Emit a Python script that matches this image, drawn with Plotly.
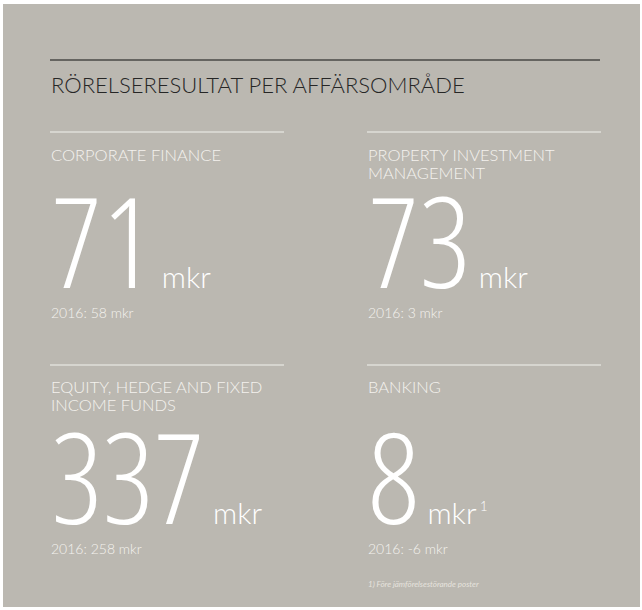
import plotly.graph_objects as go

# ---- data ----
title = "RÖRELSERESULTAT PER AFFÄRSOMRÅDE"
segments = ["CORPORATE FINANCE", "PROPERTY INVESTMENT<br>MANAGEMENT",
            "EQUITY, HEDGE AND FIXED<br>INCOME FUNDS", "BANKING"]
result_2017 = [71, 73, 337, 8]
result_2016 = [58, 3, 258, -6]
footnote_marks = ["", "", "", "1"]
prev_year = "2016"
unit = "mkr"
footnote = "1) Före jämförelsestörande poster"

# ---- layout / style ----
W, H = 642, 610
BG = "#bbb8b1"
WHITE = "#ffffff"
LABEL_C = "#f4f2ee"
FONT = "Lato"
NUM_FONT = "Open Sans"
ASC = 0.987      # Lato ascent ratio
ASC_NUM = 1.069  # Open Sans ascent ratio

col_x = [50, 367, 50, 367]
col_w = 234
rule_y = [132, 132, 365, 365]
label_base = [160, 160, 392, 392]
label_lead = 18
num_base = [287, 287, 523, 523]
prev_base = [317, 317, 553, 553]

FS_TITLE, FS_LABEL, FS_NUM, FS_UNIT, FS_PREV = 22, 16.5, 126, 30, 14


def top_from_base(base, fs, asc=ASC):
    return base - asc * fs


fig = go.Figure()

shapes = [
    dict(type="rect", xref="x", yref="y", x0=3, x1=640, y0=4, y1=607,
         fillcolor=BG, line=dict(width=0), layer="below"),
    dict(type="line", xref="x", yref="y", x0=50, x1=600, y0=60, y1=60,
         line=dict(color="#111111", width=1.2)),
]
annotations = [
    dict(text=title, x=50, y=top_from_base(92, FS_TITLE), xref="x", yref="y",
         xanchor="left", yanchor="top", showarrow=False, borderpad=0,
         font=dict(family=FONT, size=FS_TITLE, color="#262626", weight=300)),
]

for i, seg in enumerate(segments):
    x0 = col_x[i]
    shapes.append(dict(type="line", xref="x", yref="y", x0=x0, x1=x0 + col_w,
                       y0=rule_y[i], y1=rule_y[i],
                       line=dict(color="#f2f1ee", width=1.2)))
    for k, line in enumerate(seg.split("<br>")):
        annotations.append(dict(
            text=line, x=x0,
            y=top_from_base(label_base[i] + k * label_lead, FS_LABEL),
            xref="x", yref="y", xanchor="left", yanchor="top", align="left",
            showarrow=False, borderpad=0,
            font=dict(family=FONT, size=FS_LABEL, color=LABEL_C, weight=300)))
    sup = (f"<sup><span style='font-size:13px'>&nbsp;{footnote_marks[i]}"
           f"</span></sup>" if footnote_marks[i] else "")
    big = (f"<span style='font-stretch:87.5%'>{result_2017[i]}</span>"
           f"<span style='font-size:{FS_UNIT}px;font-family:Lato'>"
           f"&nbsp;{unit}{sup}</span>")
    annotations.append(dict(
        text=big, x=x0, y=top_from_base(num_base[i], FS_NUM, ASC_NUM),
        xref="x", yref="y", xanchor="left", yanchor="top", align="left",
        showarrow=False, borderpad=0,
        font=dict(family=NUM_FONT, size=FS_NUM, color=WHITE, weight=300)))
    annotations.append(dict(
        text=f"{prev_year}: {result_2016[i]} {unit}", x=x0,
        y=top_from_base(prev_base[i], FS_PREV),
        xref="x", yref="y", xanchor="left", yanchor="top",
        showarrow=False, borderpad=0,
        font=dict(family=FONT, size=FS_PREV, color=LABEL_C, weight=300)))

annotations.append(dict(
    text=f"<i>{footnote}</i>", x=367, y=top_from_base(586, 8),
    xref="x", yref="y", xanchor="left", yanchor="top", showarrow=False,
    borderpad=0, font=dict(family=FONT, size=8, color="#e6e3de")))

fig.update_layout(
    width=W, height=H, margin=dict(l=0, r=0, t=0, b=0),
    paper_bgcolor="#ffffff", plot_bgcolor="rgba(0,0,0,0)",
    xaxis=dict(range=[0, W], visible=False, fixedrange=True),
    yaxis=dict(range=[H, 0], visible=False, fixedrange=True),
    shapes=shapes, annotations=annotations, showlegend=False,
)

fig.write_html(
    "out.html",
    config={"displayModeBar": False},
    post_script="document.body.style.margin='0px';"
                "document.body.style.overflow='hidden';",
)
